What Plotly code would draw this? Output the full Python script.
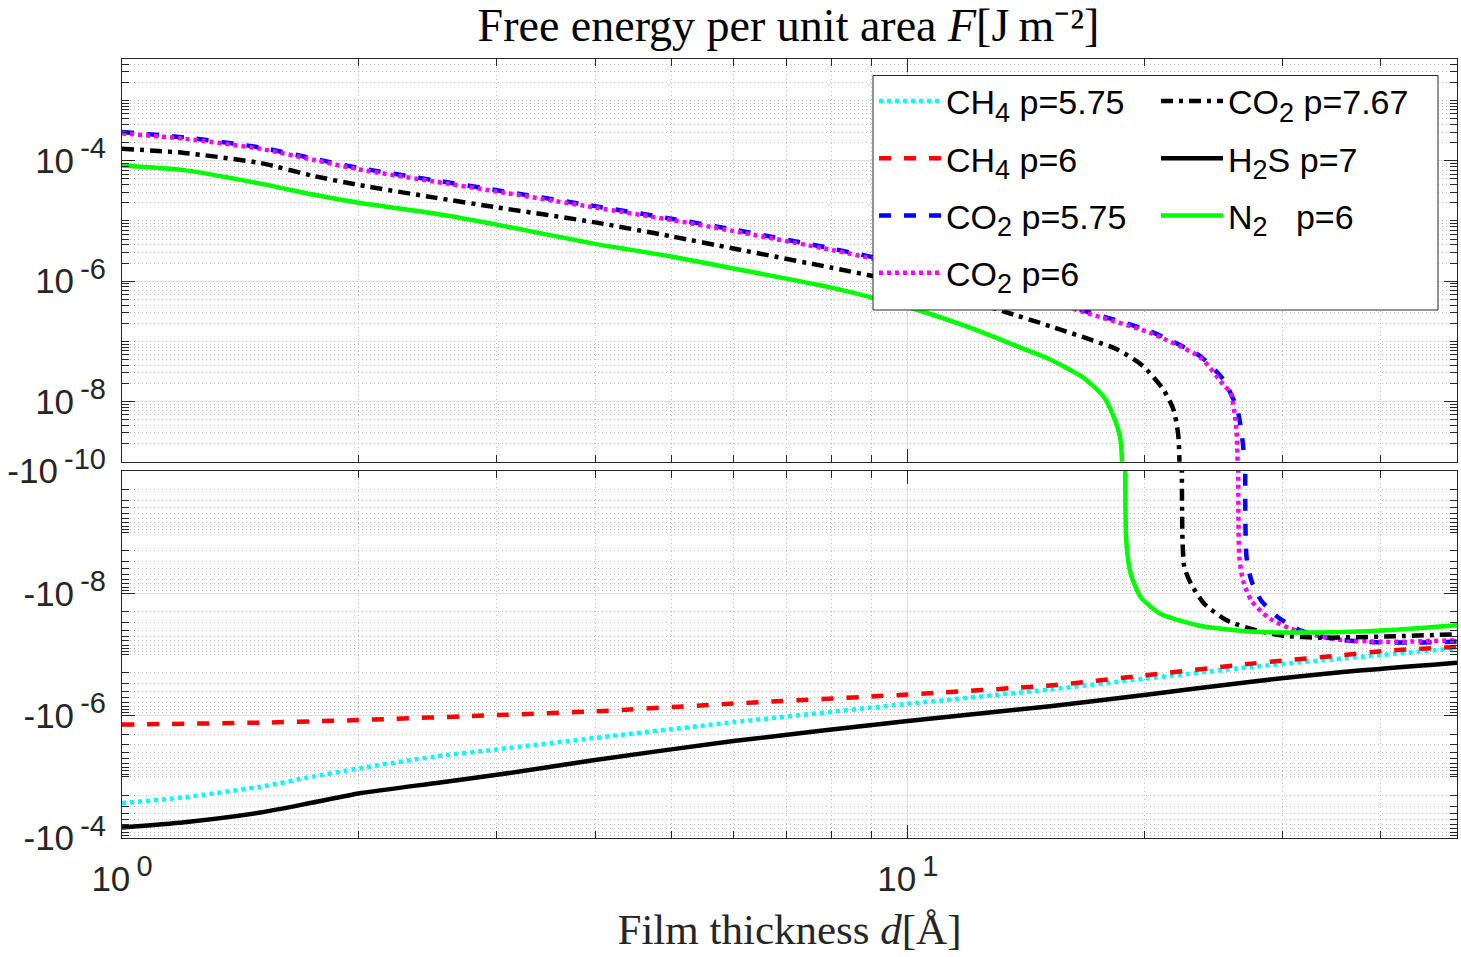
import math
import plotly.graph_objects as go

# ---------------- data (signed F in J m^-2) ----------------
# CH4 p=5.75
d_ch4_575 = [1, 1.2, 1.5, 1.75, 2, 2.5, 3, 4, 6, 10, 15.18, 20, 27.37, 35, 50]
F_ch4_575 = [-2.69e-5, -2.16e-5, -1.45e-5, -9.93e-6, -7.30e-6, -4.66e-6, -3.56e-6,
             -2.31e-6, -1.28e-6, -6.41e-7, -3.73e-7, -2.49e-7, -1.60e-7, -1.19e-7, -7.92e-8]

# CH4 p=6
d_ch4_6 = [1, 1.5, 2, 3, 4, 6, 10, 15.18, 20, 27.37, 35, 40.54, 50]
F_ch4_6 = [-1.40e-6, -1.30e-6, -1.18e-6, -9.78e-7, -8.51e-7, -6.34e-7, -4.51e-7,
           -3.20e-7, -2.20e-7, -1.41e-7, -1.05e-7, -8.73e-8, -7.51e-8]

# CO2 p=5.75
d_co2_575 = [1, 1.2, 1.5, 1.75, 2, 2.5, 3, 4, 5, 6, 8, 10, 12, 14, 16.73, 20.35, 23.57,
             25.21, 26.27, 26.74, 26.90, 26.93, 26.98, 27.37, 28.18, 29.61, 31.70, 34.99,
             38.58, 44.73, 50]
F_co2_575 = [2.99e-4, 2.44e-4, 1.66e-4, 1.09e-4, 7.60e-5, 4.73e-5, 3.24e-5, 1.76e-5,
             1.09e-5, 7.18e-6, 3.48e-6, 1.88e-6, 1.14e-6, 6.70e-7, 3.24e-7, 1.47e-7,
             5.65e-8, 2.32e-8, 7.36e-9, 1.60e-9, 1e-12, -1e-12, -2.5e-9, -6.19e-9,
             -1.32e-8, -2.48e-8, -4.11e-8, -5.62e-8, -6.22e-8, -6.39e-8, -6.15e-8]

# CO2 p=6
d_co2_6 = [1, 1.2, 1.5, 1.75, 2, 2.5, 3, 4, 5, 6, 8, 10, 12, 14, 16.73, 20.35, 23.57,
           25.21, 25.74, 26.2, 26.33, 26.37, 26.42, 26.71, 27.37, 28.75, 30.78, 34.99,
           40.54, 50]
F_co2_6 = [2.85e-4, 2.32e-4, 1.58e-4, 1.04e-4, 7.2e-5, 4.5e-5, 3.08e-5, 1.67e-5,
           1.04e-5, 6.8e-6, 3.3e-6, 1.78e-6, 1.08e-6, 6.35e-7, 3.07e-7, 1.38e-7,
           5.4e-8, 1.91e-8, 1.41e-8, 3.43e-9, 1e-12, -1e-12, -2.5e-9, -6.19e-9,
           -1.32e-8, -2.48e-8, -3.82e-8, -5.62e-8, -6.22e-8, -5.83e-8]

# CO2 p=7.67
d_co2_767 = [1, 1.2, 1.5, 1.75, 2, 2.5, 3, 4, 5, 6, 8, 10, 12, 13.23, 15.18, 18.48,
             19.94, 21.15, 21.78, 22.10, 22.27, 22.31, 22.37, 22.49, 22.94, 23.85, 25.54,
             27.92, 30.20, 33.32, 40.54, 50]
F_co2_767 = [1.58e-4, 1.35e-4, 9.16e-5, 5.62e-5, 3.96e-5, 2.44e-5, 1.68e-5, 9.46e-6,
             5.55e-6, 3.48e-6, 1.67e-6, 9.1e-7, 4.74e-7, 3.15e-7, 1.78e-7, 7.30e-8,
             3.85e-8, 1.58e-8, 7.36e-9, 2.65e-9, 1e-12, -1e-12, -1.37e-9, -3.75e-9,
             -7.02e-9, -1.49e-8, -2.82e-8, -4.11e-8, -4.96e-8, -5.30e-8, -5.08e-8, -4.66e-8]

# H2S p=7
d_h2s_7 = [1, 1.2, 1.5, 1.75, 2, 2.5, 3, 4, 6, 10, 15.18, 20, 27.37, 35, 50]
F_h2s_7 = [-6.73e-5, -5.53e-5, -3.84e-5, -2.63e-5, -1.87e-5, -1.27e-5, -9.28e-6,
           -5.30e-6, -2.60e-6, -1.22e-6, -7.02e-7, -4.60e-7, -2.78e-7, -1.98e-7, -1.36e-7]

# N2 p=6
d_n2_6 = [1, 1.2, 1.5, 1.75, 2, 2.5, 3, 4, 5, 6, 8, 10, 12, 14, 15.18, 16.73, 17.74,
          18.27, 18.65, 18.89, 18.92, 18.97, 19.22, 19.80, 20.99, 23.63, 27.37, 33.32,
          40.54, 50]
F_n2_6 = [8.36e-5, 6.98e-5, 4.17e-5, 2.75e-5, 2.01e-5, 1.33e-5, 8.69e-6, 4.16e-6,
          2.57e-6, 1.62e-6, 7.80e-7, 3.72e-7, 1.69e-7, 7.64e-8, 4.98e-8, 2.50e-8,
          1.22e-8, 5.70e-9, 2.34e-9, 1e-12, -1e-12, -1.37e-9, -4.82e-9, -1.17e-8,
          -2.17e-8, -3.41e-8, -4.21e-8, -4.37e-8, -4.01e-8, -3.32e-8]


def sub(s):
    return "<sub><span style='font-size:27px'>" + s + "</span></sub>"


series_names = ["CH" + sub("4") + " p=5.75", "CH" + sub("4") + " p=6",
                "CO" + sub("2") + " p=5.75", "CO" + sub("2") + " p=6",
                "CO" + sub("2") + " p=7.67", "H" + sub("2") + "S p=7",
                "N" + sub("2") + "\u00a0\u00a0\u00a0p=6"]
series_d = [d_ch4_575, d_ch4_6, d_co2_575, d_co2_6, d_co2_767, d_h2s_7, d_n2_6]
series_F = [F_ch4_575, F_ch4_6, F_co2_575, F_co2_6, F_co2_767, F_h2s_7, F_n2_6]

# ---------------- styles ----------------
colors = ["#00FFFF", "#FF0000", "#0000FF", "#FF00FF", "#000000", "#000000", "#00FF00"]
dashes = ["4px,4px", "12px,13px", "12px,13px", "4px,4px", "12px,6px,4px,6px", "solid", "solid"]
legends = ["legend", "legend", "legend", "legend", "legend2", "legend2", "legend2"]
LW = 4.5

fig = go.Figure()
for name, d, F, col, dash, leg in zip(series_names, series_d, series_F, colors, dashes, legends):
    top = [(x, f) for x, f in zip(d, F) if f > 0]
    bot = [(x, -f) for x, f in zip(d, F) if f < 0]
    shown = False
    line = dict(color=col, width=LW, dash=dash, shape="spline", smoothing=0.6)
    if top:
        fig.add_trace(go.Scatter(x=[p[0] for p in top], y=[p[1] for p in top],
                                 xaxis="x", yaxis="y", mode="lines", name=name,
                                 legendgroup=name, legend=leg, showlegend=True, line=line))
        shown = True
    if bot:
        fig.add_trace(go.Scatter(x=[p[0] for p in bot], y=[p[1] for p in bot],
                                 xaxis="x2", yaxis="y2", mode="lines", name=name,
                                 legendgroup=name, legend=leg, showlegend=not shown,
                                 line=line))

# ---------------- axes ----------------
AX = "#262626"
tickfont = dict(family="Liberation Sans, Arial, sans-serif", size=35, color=AX)


def sup(s):
    return ("<sup><span style='font-size:22px'>\u00a0</span>"
            "<span style='font-size:29px'>" + s + "</span></sup>")


x_major = [1, 10]
x_major_text = ["10" + sup("0"), "10" + sup("1")]
x_minor = [2, 3, 4, 5, 6, 7, 8, 9, 20, 30, 40]

top_major = [1e-8, 1e-6, 1e-4]
top_major_text = ["10" + sup("-8"), "10" + sup("-6"), "10" + sup("-4")]
bot_major = [1e-10, 1e-8, 1e-6, 1e-4]
bot_major_text = ["-10" + sup("-10"), "-10" + sup("-8"), "-10" + sup("-6"), "-10" + sup("-4")]

top_minor = [k * 10.0 ** n for n in range(-9, -2) for k in range(1, 10)
             if not (k == 1 and n in (-8, -6, -4))]
bot_minor = [k * 10.0 ** n for n in range(-10, -4) for k in range(1, 10)
             if not (k == 1 and n in (-10, -8, -6, -4))]


def minor(vals):
    return dict(tickmode="array", tickvals=vals, ticks="inside", ticklen=7, tickwidth=1,
                tickcolor=AX, showgrid=True, gridcolor="#bdbdbd", griddash="1px,3px",
                gridwidth=1)


common = dict(type="log", showline=True, linecolor=AX, linewidth=1, mirror="allticks",
              ticks="inside", ticklen=13, tickwidth=1, tickcolor=AX, showgrid=True,
              gridcolor="#e0e0e0", gridwidth=1, zeroline=False, tickfont=tickfont,
              automargin=False)

y_top_dom = (838 - 461.7) / 779
y_bot_dom = (838 - 471) / 779

fig.update_layout(
    xaxis=dict(common, anchor="y", domain=[0, 1], range=[0, math.log10(50)],
               tickmode="array", tickvals=x_major, ticktext=x_major_text,
               showticklabels=False, matches="x2", minor=minor(x_minor)),
    xaxis2=dict(common, anchor="y2", domain=[0, 1], range=[0, math.log10(50)],
                tickmode="array", tickvals=x_major, ticktext=x_major_text,
                ticklabelstandoff=10, minor=minor(x_minor),
                title=dict(text="Film thickness <i>d</i>[Å]", standoff=16,
                           font=dict(family="Liberation Serif, serif", size=43, color=AX))),
    yaxis=dict(common, anchor="x", domain=[y_top_dom, 1], range=[-9, math.log10(4.9e-3)],
               tickmode="array", tickvals=top_major, ticktext=top_major_text,
               ticklabelstandoff=8, minor=minor(top_minor)),
    yaxis2=dict(common, anchor="x2", domain=[0, y_bot_dom], range=[-4, -10],
                tickmode="array", tickvals=bot_major, ticktext=bot_major_text,
                ticklabelstandoff=8, minor=minor(bot_minor)),
)

# ---------------- legend ----------------
leg_common = dict(xref="paper", yref="paper", xanchor="left", yanchor="top",
                  bgcolor="rgba(0,0,0,0)", borderwidth=0, orientation="v",
                  font=dict(family="Liberation Sans, Arial, sans-serif", size=34, color="black"),
                  traceorder="grouped", tracegroupgap=10, itemwidth=62,
                  itemclick=False, itemdoubleclick=False)
leg_top = (838 - 72.5) / 779
fig.update_layout(
    legend=dict(leg_common, x=(874 - 122) / 1335, y=leg_top),
    legend2=dict(leg_common, x=(1156 - 122) / 1335, y=leg_top),
    shapes=[dict(type="rect", xref="paper", yref="paper", layer="above",
                 x0=(873 - 122) / 1335, x1=(1438 - 122) / 1335,
                 y0=(838 - 310) / 779, y1=(838 - 75.5) / 779,
                 fillcolor="white", line=dict(color=AX, width=1))],
)

fig.update_layout(
    width=1461, height=957,
    margin=dict(l=122, r=4, t=59, b=119, pad=0),
    paper_bgcolor="white", plot_bgcolor="white",
    template="none",
    title=dict(text="Free energy per unit area <i>F</i>[J\u2009m\u207b\u00b2]",
               x=(788.5 - 122) / 1335, xref="paper", xanchor="center",
               y=1 - 25 / 957, yref="container", yanchor="middle",
               font=dict(family="Liberation Serif, serif", size=46, color="black")),
)

fig.write_html("out.html")
